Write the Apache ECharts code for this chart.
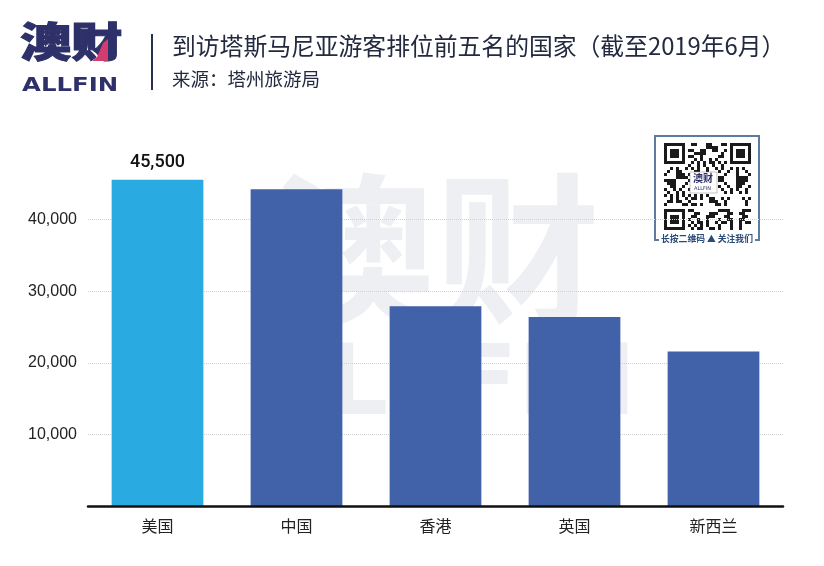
<!DOCTYPE html>
<html>
<head>
<meta charset="utf-8">
<script src="https://cdn.jsdelivr.net/npm/echarts@6/dist/echarts.min.js"></script>
<style>
html,body{margin:0;padding:0;background:#fff;}
#chart{width:824px;height:566px;}
</style>
</head>
<body>
<div id="chart"></div>
<script>
// ---- data ----
const categories = ['美国', '中国', '香港', '英国', '新西兰'];
const visitors = [45500, 44200, 27900, 26400, 21600];
const titleText = '到访塔斯马尼亚游客排位前五名的国家（截至2019年6月）';
const sourceText = '来源：塔州旅游局';
const yMin = 0, yMax = 50000, yInterval = 10000;

// ---- helpers (decorative QR placeholder) ----
function qrRects(x0, y0, n, s) {
  const out = [];
  function sq(r, c) { out.push({type: 'rect', shape: {x: x0 + c * s, y: y0 + r * s, width: s, height: s}, style: {fill: '#1a1a1a'}}); }
  function finder(r0, c0) {
    for (let r = 0; r < 7; r++) for (let c = 0; c < 7; c++) {
      const edge = r === 0 || r === 6 || c === 0 || c === 6;
      const core = r >= 2 && r <= 4 && c >= 2 && c <= 4;
      if (edge || core) sq(r0 + r, c0 + c);
    }
  }
  finder(0, 0); finder(0, n - 7); finder(n - 7, 0);
  for (let r = 0; r < n; r++) for (let c = 0; c < n; c++) {
    const inF = (r < 8 && c < 8) || (r < 8 && c >= n - 8) || (r >= n - 8 && c < 8);
    const inLogo = r >= 10 && r <= 16 && c >= 9 && c <= 17;
    if (inF || inLogo) continue;
    if (((r * 7 + c * 13 + r * c * 3 + (r ^ c)) % 5) < 2) sq(r, c);
  }
  return out;
}

const chart = echarts.init(document.getElementById('chart'), null, {renderer: 'canvas'});

const qrChildren = [
  {type: 'rect', shape: {x: 650, y: 132, width: 116, height: 112}, style: {fill: '#ffffff'}},
  {type: 'rect', shape: {x: 655, y: 136, width: 104, height: 104}, style: {fill: 'none', stroke: '#5b7c9c', lineWidth: 2}}
].concat(qrRects(664, 143, 29, 3)).concat([
  {type: 'rect', shape: {x: 690, y: 172, width: 27, height: 21}, style: {fill: '#ffffff', stroke: '#888', lineWidth: 0.5}},
  {type: 'text', x: 693, y: 173, style: {text: '澳财', fontSize: 10, fontWeight: 'bold', fontFamily: 'Noto Sans CJK SC', fill: '#2e3169'}},
  {type: 'text', x: 694, y: 186, style: {text: 'ALLFIN', fontSize: 5, fontFamily: 'DejaVu Sans', fill: '#2e3169'}},
  {type: 'rect', shape: {x: 659, y: 233, width: 96, height: 12}, style: {fill: '#ffffff'}},
  {type: 'text', x: 661, y: 234, style: {text: '长按二维码 ▲ 关注我们', fontSize: 8.8, fontWeight: 'bold', fontFamily: 'Noto Sans CJK SC', fill: '#2a4a78'}}
]);

const option = {
  backgroundColor: '#ffffff',
  animation: false,
  grid: {left: 88, right: 41, top: 147.5, bottom: 59.5},
  xAxis: {
    type: 'category',
    data: categories,
    axisLine: {lineStyle: {color: '#111', width: 2.5}},
    axisTick: {show: false},
    axisLabel: {color: '#222', fontSize: 16, margin: 11, fontFamily: 'Noto Sans CJK SC'},
    z: 5
  },
  yAxis: {
    type: 'value',
    min: yMin, max: yMax, interval: yInterval,
    axisLine: {show: false},
    axisTick: {show: false},
    axisLabel: {
      color: '#222', fontSize: 16, margin: 11, fontFamily: 'Liberation Sans',
      showMinLabel: false, showMaxLabel: false,
      formatter: v => v.toLocaleString('en-US')
    },
    splitLine: {
      show: true, showMinLine: false, showMaxLine: false,
      lineStyle: {color: '#cfcfcf', type: 'dotted', width: 1}
    }
  },
  series: [{
    type: 'bar',
    barWidth: '66%',
    z: 3,
    itemStyle: {color: '#4161a9'},
    label: {
      show: false, position: 'top', distance: 8,
      color: '#111', fontSize: 18, fontFamily: 'Roboto', fontWeight: 500,
      formatter: p => p.value.toLocaleString('en-US')
    },
    data: visitors.map((v, i) => i === 0
      ? {value: v, itemStyle: {color: '#29abe2'}, label: {show: true}}
      : {value: v})
  }],
  graphic: [
    // watermark
    {type: 'text', z: -10, x: 270, y: 168, silent: true,
      style: {text: '澳财', fontSize: 165, fontWeight: 'bold', fontFamily: 'Noto Sans CJK SC', fill: 'rgba(200,202,212,0.3)'}},
    {type: 'text', z: -10, x: 250, y: 340, silent: true,
      style: {text: 'ALLFIN', fontSize: 98, fontWeight: 'bold', fontFamily: 'DejaVu Sans', fill: 'rgba(200,202,212,0.3)'}},
    // logo
    {type: 'text', x: 20, y: 21, scaleX: 1.25,
      style: {text: '澳财', fontSize: 41, fontWeight: 900, fontFamily: 'Noto Sans CJK SC', fill: '#2e3169', stroke: '#2e3169', lineWidth: 1}},
    {type: 'polygon', shape: {points: [[103, 43], [108, 39], [108, 61], [92, 61], [97, 57]]},
      style: {fill: '#d33c6e'}},
    {type: 'text', x: 22, y: 76, scaleX: 1.22,
      style: {text: 'ALLFIN', fontSize: 20, fontWeight: 'bold', fontFamily: 'DejaVu Sans', fill: '#2e3169'}},
    {type: 'line', shape: {x1: 152, y1: 34, x2: 152, y2: 90},
      style: {stroke: '#2a2f4f', lineWidth: 2}},
    // title & source
    {type: 'text', x: 172, y: 34,
      style: {text: titleText, fontSize: 23.8, fontFamily: 'Noto Sans CJK SC', fill: '#232a40'}},
    {type: 'text', x: 172, y: 70,
      style: {text: sourceText, fontSize: 18.5, fontFamily: 'Noto Sans CJK SC', fill: '#232a40'}},
    // QR code box
    {type: 'group', z: 20, children: qrChildren}
  ]
};
chart.setOption(option);
</script>
</body>
</html>
